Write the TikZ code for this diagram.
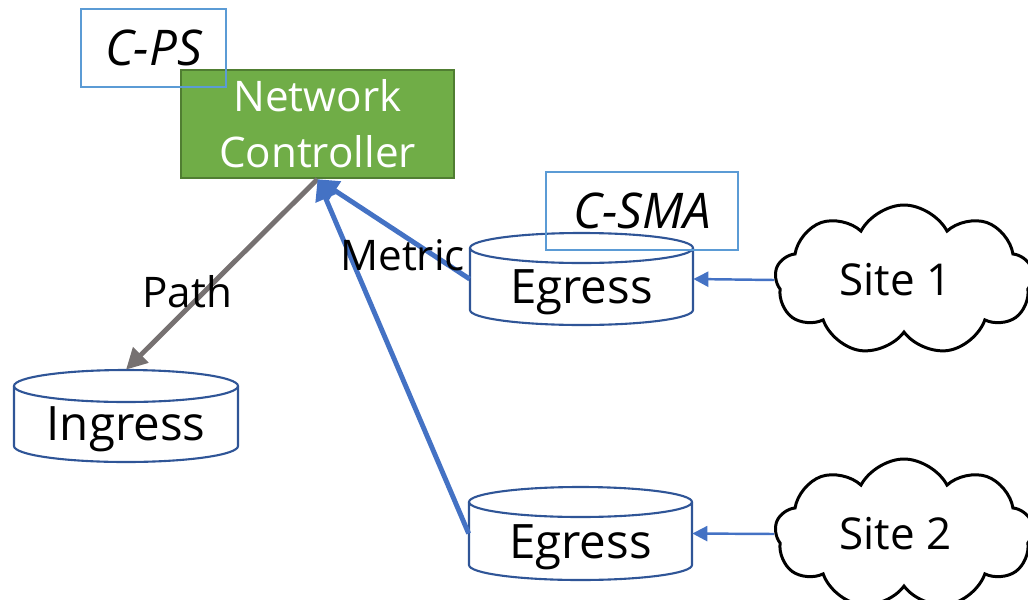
\documentclass[tikz,border=0pt]{standalone}
\usepackage{fontspec}
\setmainfont{Open Sans}
\usetikzlibrary{shapes.symbols,arrows.meta}
\definecolor{ncgreen}{HTML}{70AD47}
\definecolor{ncborder}{HTML}{507E32}
\definecolor{lblue}{HTML}{5B9BD5}
\definecolor{cylblue}{HTML}{2F5597}
\definecolor{arrblue}{HTML}{4472C4}
\definecolor{arrgray}{HTML}{767171}
\newcommand\mycyl[5]{%
  \draw[cylline] ({(#1+#2)/2},#3) ellipse ({(#2-#1)/2} and #5);
  \draw[cylline] (#1,#3) -- (#1,#4) arc[start angle=180,end angle=360,x radius={(#2-#1)/2},y radius=#5] -- (#2,#3);
}
\begin{document}
\begin{tikzpicture}[x=0.02cm,y=0.02cm,
  ctrl/.style={draw=ncborder, line width=1.3pt, fill=ncgreen, text=white,
    font=\fontsize{24}{32}\selectfont, align=center,
    minimum width=273*0.02cm, minimum height=108*0.02cm, inner sep=0pt},
  tagbox/.style={draw=lblue, line width=1.2pt, font=\fontsize{28}{30}\selectfont\itshape,
    inner sep=0pt, text height=20pt, text depth=0pt},
  cylline/.style={draw=cylblue, line width=1.2pt},
  cylbody/.style={inner sep=0pt, minimum width=223*0.02cm, minimum height=#1*0.02cm},
  cyltext/.style={font=\fontsize{27}{30}\selectfont, inner sep=0pt, anchor=base},
  lbl/.style={font=\fontsize{24}{28}\selectfont, inner sep=0pt, anchor=base west},
  bluearrow/.style={draw=arrblue, line width=2.8pt, -{Triangle[length=0.42cm,width=0.42cm]}},
  grayarrow/.style={draw=arrgray, line width=2.8pt, -{Triangle[length=0.42cm,width=0.42cm]}},
  thinarrow/.style={draw=arrblue, line width=1.4pt, -{Triangle[length=0.3cm,width=0.3cm]}},
  cloudst/.style={cloud, draw=black, line width=1.7pt, cloud puffs=9, cloud puff arc=125,
    aspect=1.7, minimum width=258*0.02cm, minimum height=150*0.02cm, inner sep=0pt,
    font=\fontsize{25}{28}\selectfont}
]
\useasboundingbox (0,0) rectangle (1028,-599);

% controller
\node[ctrl] (nc) at (317.5,-124) {Network\\Controller};

% cylinders
\mycyl{470}{693}{-248}{-310}{15}
\node[cylbody=92] (eg1) at (581.5,-279) {};
\node[cyltext] (eg1t) at (581.5,-303) {Egress};

\mycyl{469}{692}{-502}{-565}{15}
\node[cylbody=93] (eg2) at (580.5,-533.5) {};
\node[cyltext] (eg2t) at (580.5,-558) {Egress};

\mycyl{14}{238}{-386}{-446}{16}
\node[cylbody=92] (ing) at (126,-416) {};
\node[cyltext] (ingt) at (126,-440) {Ingress};

% clouds
\node[cloudst] (s1) at (904,-280) {\hspace*{-10pt}Site 1};
\node[cloudst] (s2) at (904,-534) {\hspace*{-10pt}Site 2};

% connectors
\draw[grayarrow] (nc.south) -- (ing.north);
\draw[bluearrow] (eg1.west) -- (nc.south);
\draw[bluearrow] (eg2.west) -- (nc.south);
\draw[thinarrow] (s1.west) -- (eg1.east);
\draw[thinarrow] (s2.west) -- (eg2.east);

% tag boxes
\node[tagbox, minimum width=145*0.02cm, minimum height=78*0.02cm] (cps) at (153.5,-48) {C-PS};
\node[tagbox, minimum width=192*0.02cm, minimum height=78*0.02cm] (csma) at (642,-211) {C-SMA};

% labels
\node[lbl] (metric) at (340,-270) {Metric};
\node[lbl] (path) at (142,-307) {Path};
\end{tikzpicture}
\end{document}
